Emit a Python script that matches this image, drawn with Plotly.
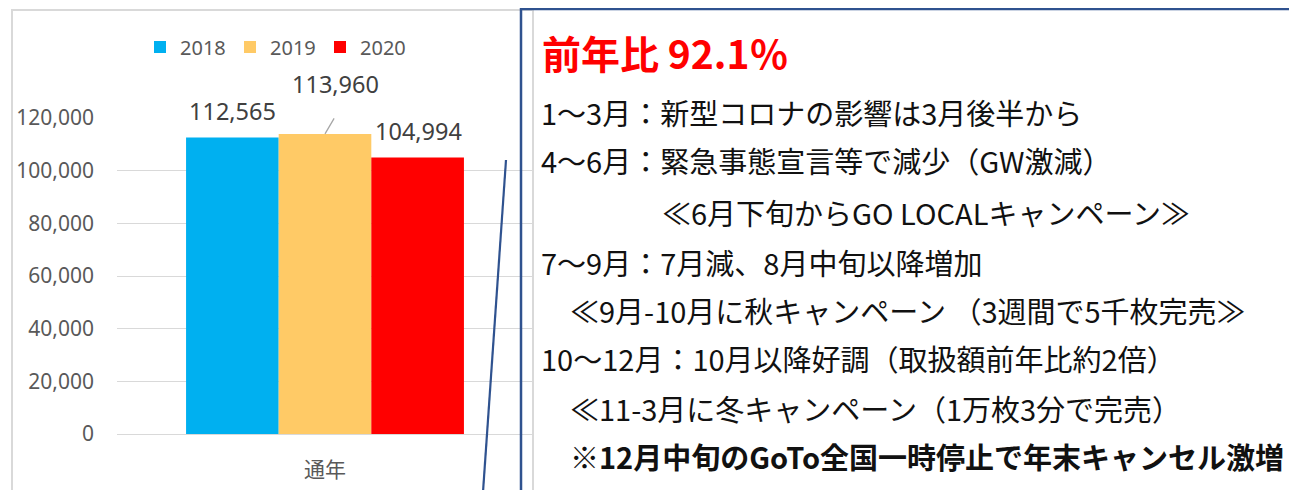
import plotly.graph_objects as go

# ---- data ----
categories = ["通年"]
years = ["2018", "2019", "2020"]
values_2018 = [112565]
values_2019 = [113960]
values_2020 = [104994]
y_ticks = [0, 20000, 40000, 60000, 80000, 100000, 120000]

title_text = "前年比 92.1％"
notes = [
    "1～3月：新型コロナの影響は3月後半から",
    "4～6月：緊急事態宣言等で減少（GW激減）",
    "≪6月下旬からGO LOCALキャンペーン≫",
    "7～9月：7月減、8月中旬以降増加",
    "≪9月-10月に秋キャンペーン （3週間で5千枚完売≫",
    "10～12月：10月以降好調（取扱額前年比約2倍）",
    "≪11-3月に冬キャンペーン（1万枚3分で完売）",
    "※12月中旬のGoTo全国一時停止で年末キャンセル激増",
]

# page has an 8px body margin; size the figure so it ends at the window edge
OFF = 8
W, H = 1297 - OFF, 490 - OFF
def px(x):
    return (x - OFF) / W
def py(y):
    return 1 - (y - OFF) / H

colors = {"2018": "#00B0F0", "2019": "#FFCA66", "2020": "#FF0000"}
series = {"2018": values_2018, "2019": values_2019, "2020": values_2020}

fig = go.Figure()
for yr in years:
    fig.add_trace(go.Bar(
        x=categories, y=series[yr], name=yr,
        marker=dict(color=colors[yr], line=dict(width=0)),
    ))

label_font = dict(family="Noto Sans, sans-serif", size=23.5, color="#404040")
label_pos = {"2018": (-93, 27), "2019": (10, 50), "2020": (93, 27)}
for yr in years:
    dx, dy = label_pos[yr]
    fig.add_annotation(x=categories[0], y=series[yr][0], xref="x", yref="y",
                       text=f"{series[yr][0]:,}", showarrow=False,
                       xshift=dx, yshift=dy, font=label_font)
fig.add_annotation(x=categories[0], y=values_2019[0], xref="x", yref="y",
                   text="", showarrow=True, arrowhead=0, arrowwidth=1.3,
                   arrowcolor="#A6A6A6", ax=10, ay=-17, standoff=0)

fig.add_annotation(x=px(540), y=py(52), xref="paper", yref="paper",
                   xanchor="left", yanchor="middle", showarrow=False,
                   text=f"<b>{title_text}</b>",
                   font=dict(family="Noto Sans CJK JP", size=39, color="#FF0000"))
note_x = [539, 539, 660, 539, 568, 539, 568, 568]
note_y = [112, 160, 212, 262, 310, 358, 408, 456]
for i, t in enumerate(notes):
    txt = f"<b>{t}</b>" if t.startswith("※") else t
    fig.add_annotation(x=px(note_x[i]), y=py(note_y[i]), xref="paper", yref="paper",
                       xanchor="left", yanchor="middle", showarrow=False,
                       text=txt,
                       font=dict(family="Noto Sans CJK JP", size=29, color="#111111"))

fig.add_shape(type="rect", xref="paper", yref="paper",
              x0=px(12), x1=px(533), y0=py(500), y1=py(10),
              line=dict(color="#D9D9D9", width=2), layer="below")
fig.add_shape(type="rect", xref="paper", yref="paper",
              x0=px(521), x1=px(1310), y0=py(500), y1=py(9),
              line=dict(color="#2F528F", width=2.5))
fig.add_shape(type="line", xref="paper", yref="paper",
              x0=px(506), y0=py(160), x1=px(483), y1=py(492),
              line=dict(color="#2F528F", width=2.2))

fig.update_layout(
    width=W, height=H,
    margin=dict(l=0, r=0, t=0, b=0, autoexpand=False),
    paper_bgcolor="white", plot_bgcolor="white",
    barmode="group", bargap=0.332, bargroupgap=0,
    showlegend=True,
    legend=dict(orientation="h", x=px(140), y=py(47), xanchor="left", yanchor="middle",
                font=dict(family="Noto Sans, sans-serif", size=20, color="#595959"),
                itemwidth=30, entrywidth=45, bgcolor="rgba(0,0,0,0)"),
    xaxis=dict(domain=[px(117), px(533)], showgrid=False, zeroline=False,
               showline=False, ticks="", ticklabelstandoff=21, automargin=False,
               tickfont=dict(family="Noto Sans CJK JP", size=21, color="#595959")),
    yaxis=dict(domain=[py(434), py(118)], range=[0, 120000],
               tickvals=y_ticks, tickformat=",d", showgrid=True,
               gridcolor="#D9D9D9", gridwidth=1.3, zeroline=True,
               zerolinecolor="#D9D9D9", zerolinewidth=1.3, showline=False,
               ticks="", ticklabelstandoff=22, automargin=False,
               tickfont=dict(family="Noto Sans, sans-serif", size=21, color="#595959")),
)

fig.write_html("out.html")
